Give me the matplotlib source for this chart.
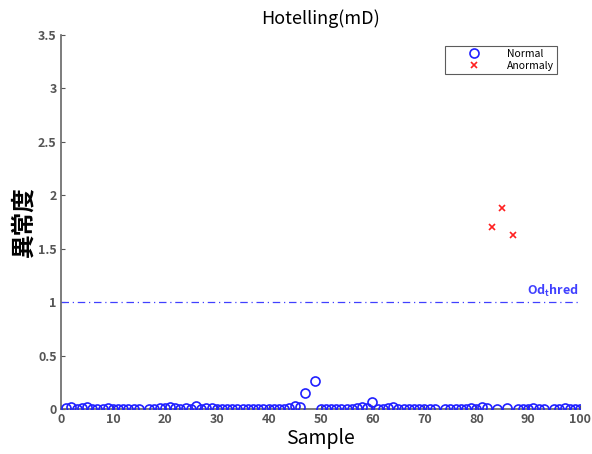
import matplotlib
matplotlib.use("Agg")
import matplotlib.pyplot as plt

plt.rcParams['font.family'] = ['Noto Sans CJK JP', 'DejaVu Sans']

title = "Hotelling(mD)"
xlabel = "Sample"
ylabel = "異常度"
threshold = 1.0
threshold_label = r"Od$_\mathregular{t}$hred"

normal_x = [1, 2, 3, 4, 5, 6, 7, 8, 9, 10, 11, 12, 13, 14, 15, 17, 18, 19, 20,
            21, 22, 23, 24, 25, 26, 27, 28, 29, 30, 31, 32, 33, 34, 35, 36, 37, 38, 39, 40,
            41, 42, 43, 44, 45, 46, 47, 49, 50, 51, 52, 53, 54, 55, 56, 57, 58, 59, 60,
            61, 62, 63, 64, 65, 66, 67, 68, 69, 70, 71, 72, 74, 75, 76, 77, 78, 79, 80,
            81, 82, 84, 86, 88, 89, 90, 91, 92, 93, 95, 96, 97, 98, 99, 100]
normal_y = [0.01, 0.02, 0.0, 0.01, 0.02, 0.0, 0.0, 0.0, 0.01, 0.0, 0.0, 0.0, 0.0, 0.0, 0.0, 0.0, 0.0, 0.01, 0.01,
            0.02, 0.01, 0.0, 0.01, 0.0, 0.03, 0.0, 0.01, 0.01, 0.0, 0.0, 0.0, 0.0, 0.0, 0.0, 0.0, 0.0, 0.0, 0.0, 0.0,
            0.0, 0.0, 0.0, 0.01, 0.03, 0.02, 0.15, 0.26, 0.0, 0.0, 0.0, 0.0, 0.0, 0.0, 0.0, 0.01, 0.02, 0.01, 0.07,
            0.0, 0.0, 0.01, 0.02, 0.0, 0.0, 0.0, 0.0, 0.0, 0.0, 0.0, 0.0, 0.0, 0.0, 0.0, 0.0, 0.0, 0.01, 0.0,
            0.02, 0.01, 0.0, 0.01, 0.0, 0.0, 0.0, 0.01, 0.0, 0.0, 0.0, 0.0, 0.01, 0.0, 0.0, 0.0]
anomaly_x = [83, 85, 87]
anomaly_y = [1.70, 1.88, 1.63]

xticks = [0, 10, 20, 30, 40, 50, 60, 70, 80, 90, 100]
yticks = [0, 0.5, 1, 1.5, 2, 2.5, 3, 3.5]
ytick_labels = ["0", "0.5", "1", "1.5", "2", "2.5", "3", "3.5"]

fig = plt.figure(figsize=(5.92, 4.54), dpi=100)
ax = fig.add_axes([0.103, 0.099, 0.877, 0.824])

ax.plot([1, 100], [0, 0], color='black', lw=0.6, zorder=1)
ax.plot(normal_x, normal_y, linestyle='none', marker='o', markersize=6.5,
        markerfacecolor='none', markeredgecolor='#2020ff', markeredgewidth=1.2,
        label='Normal', zorder=3)
ax.plot(anomaly_x, anomaly_y, linestyle='none', marker='x', markersize=5,
        color='#ff2020', markeredgewidth=1.2, label='Anormaly', zorder=3)
ax.plot([0, 100], [threshold, threshold], color='#4040ff', lw=0.9,
        linestyle=(0, (6, 3, 1, 3)), zorder=2)
ax.text(89.8, threshold + 0.03, threshold_label, color='#4040ff', fontsize=9,
        fontweight='bold', ha='left', va='bottom')

ax.set_xlim(0, 100)
ax.set_ylim(0, 3.5)
ax.set_xticks(xticks)
ax.set_yticks(yticks)
ax.set_yticklabels(ytick_labels)
for s in ['top', 'right']:
    ax.spines[s].set_visible(False)
for s in ['left', 'bottom']:
    ax.spines[s].set_color('#666666')
    ax.spines[s].set_linewidth(1.2)
ax.tick_params(colors='#555555', labelsize=9, length=3, direction='in', pad=3)
for lab in ax.get_xticklabels() + ax.get_yticklabels():
    lab.set_fontweight('bold')

ax.set_title(title, fontsize=13, pad=8)
ax.set_xlabel(xlabel, fontsize=14, labelpad=1)
ax.set_ylabel(ylabel, fontsize=17, labelpad=2, fontweight='bold')

leg = ax.legend(loc='upper right', bbox_to_anchor=(0.965, 0.985), fontsize=7.5,
                frameon=True, fancybox=False, edgecolor='#333333',
                handlelength=5, borderpad=0.3, labelspacing=0.2, handletextpad=0.6)
leg.get_frame().set_linewidth(0.8)

fig.savefig('out.png', dpi=100)
